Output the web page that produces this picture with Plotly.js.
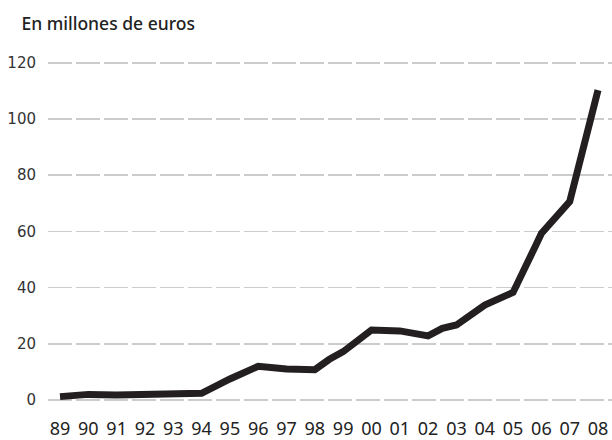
<!DOCTYPE html>
<html>
<head>
<meta charset="utf-8">
<script src="https://cdn.plot.ly/plotly-3.0.1.min.js"></script>
<style>html,body{margin:0;padding:0;background:#fff;}#chart{width:612px;height:440px;}</style>
</head>
<body>
<div id="chart"></div>
<script>
const years = [1989,1990,1991,1992,1993,1994,1995,1996,1997,1998,1998.5,1999,2000,2001,2002,2002.5,2003,2004,2005,2005.4,2005.8,2006,2007,2008];
const values = [1.2,2.0,1.8,2.0,2.6,2.4,7.5,12.0,11.0,10.8,14.4,17.2,24.9,24.6,22.8,25.5,26.7,33.8,38.3,47.4,55,59.3,70.6,110.3];
const tickYears = [1989,1990,1991,1992,1993,1994,1995,1996,1997,1998,1999,2000,2001,2002,2003,2004,2005,2006,2007,2008];
const tickLabels = ['89','90','91','92','93','94','95','96','97','98','99','00','01','02','03','04','05','06','07','08'];
const yTicks = [0,20,40,60,80,100,120];

Plotly.newPlot('chart', [{
  x: years, y: values, type: 'scatter', mode: 'lines',
  line: {color: '#231f20', width: 7, shape: 'linear'},
  hoverinfo: 'skip'
}], {
  width: 612, height: 440,
  margin: {l: 48, r: 0, t: 55, b: 35},
  paper_bgcolor: '#fff', plot_bgcolor: '#fff',
  showlegend: false,
  title: {text: 'En millones de euros', x: 0.035, xanchor: 'left', y: 0.945, yanchor: 'middle',
    font: {family: 'Noto Sans', size: 17.5, color: '#222', weight: 500}},
  xaxis: {
    range: [1988.576, 2008.494],
    tickmode: 'array', tickvals: tickYears, ticktext: tickLabels,
    showgrid: false, zeroline: false, showline: false,
    ticks: 'outside', ticklen: 7, tickcolor: 'rgba(0,0,0,0)',
    tickfont: {family: 'Noto Sans', size: 18, color: '#222'}
  },
  yaxis: {
    range: [-1.78, 122.8],
    tickmode: 'array', tickvals: yTicks,
    showgrid: true, gridcolor: '#cccccc', gridwidth: 1.5, griddash: '24px,4px',
    zeroline: false, showline: false,
    ticks: 'outside', ticklen: 8, tickcolor: 'rgba(0,0,0,0)',
    tickfont: {family: 'DejaVu Sans', size: 15, color: '#333'}
  }
}, {displayModeBar: false, staticPlot: true});
</script>
</body>
</html>
